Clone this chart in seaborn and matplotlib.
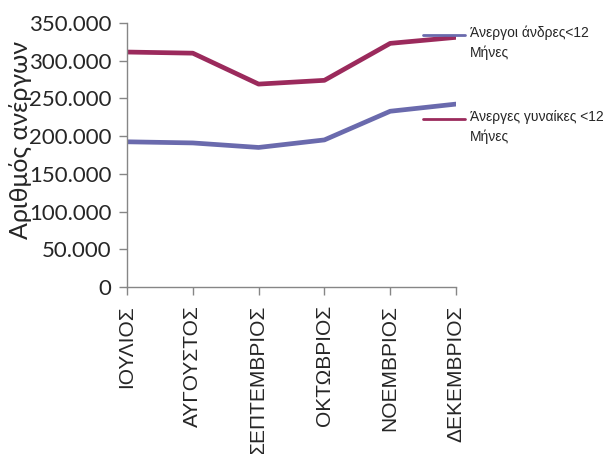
import matplotlib

matplotlib.use("Agg")

import matplotlib.pyplot as plt
import matplotlib.ticker as mticker
import pandas as pd
import seaborn as sns
from matplotlib.lines import Line2D

months = ["ΙΟΥΛΙΟΣ", "ΑΥΓΟΥΣΤΟΣ", "ΣΕΠΤΕΜΒΡΙΟΣ", "ΟΚΤΩΒΡΙΟΣ", "ΝΟΕΜΒΡΙΟΣ", "ΔΕΚΕΜΒΡΙΟΣ"]
men = [192500, 191000, 185000, 195000, 233000, 242500]
women = [311500, 310000, 269000, 274000, 323000, 331000]
series_names = ["Άνεργοι άνδρες<12\nΜήνες", "Άνεργες γυναίκες <12\nΜήνες"]
colors = ["#6A6AAD", "#9B2A5C"]

df = pd.DataFrame({
    "month": months * 2,
    "x": list(range(len(months))) * 2,
    "value": men + women,
    "series": [series_names[0]] * len(months) + [series_names[1]] * len(months),
})

sns.set_style("white")
plt.rcParams["font.family"] = ["Liberation Sans", "DejaVu Sans"]

W, H = 609, 454
fig = plt.figure(figsize=(W / 100, H / 100), dpi=100)
ax = fig.add_axes([127 / W, 1 - 287 / H, (456 - 127) / W, (287 - 23) / H])

sns.lineplot(data=df, x="x", y="value", hue="series", palette=colors,
             linewidth=3.4, ax=ax, legend=False)

ax.set_xlim(0, 5)
ax.set_ylim(0, 350000)
ax.set_xticks(range(len(months)))
ax.set_xticklabels(months, rotation=90, fontsize=15)
ax.yaxis.set_major_locator(mticker.MultipleLocator(50000))
ax.yaxis.set_major_formatter(
    mticker.FuncFormatter(lambda v, p: f"{int(v):,}".replace(",", "."))
)
for lbl in ax.get_yticklabels():
    lbl.set_fontsize(16)
    lbl.set_family(["Lato", "DejaVu Sans"])
ax.set_xlabel("")
ax.set_ylabel("Αριθμός ανέργων", fontsize=18, family=["Lato", "DejaVu Sans"])
ax.yaxis.set_label_coords(-0.29, 0.557)

for side in ["top", "right"]:
    ax.spines[side].set_visible(False)
for side in ["left", "bottom"]:
    ax.spines[side].set_color("#868686")
    ax.spines[side].set_linewidth(1)
ax.tick_params(axis="both", which="major", direction="out", length=6,
               color="#868686", width=1, left=True, bottom=True)
ax.tick_params(axis="x", pad=7)
ax.tick_params(axis="y", pad=5)

# legend: handle aligned with the first text line, as in the original
for i, (name, c) in enumerate(zip(series_names, colors)):
    y = 1 - (35 + i * 84) / H
    fig.add_artist(Line2D([423 / W, 465 / W], [y, y], color=c, linewidth=2,
                          transform=fig.transFigure))
    fig.text(470 / W, y + 9 / H, name, fontsize=10, va="top", ha="left",
             linespacing=1.45, transform=fig.transFigure)

fig.savefig("out.png", dpi=100)
